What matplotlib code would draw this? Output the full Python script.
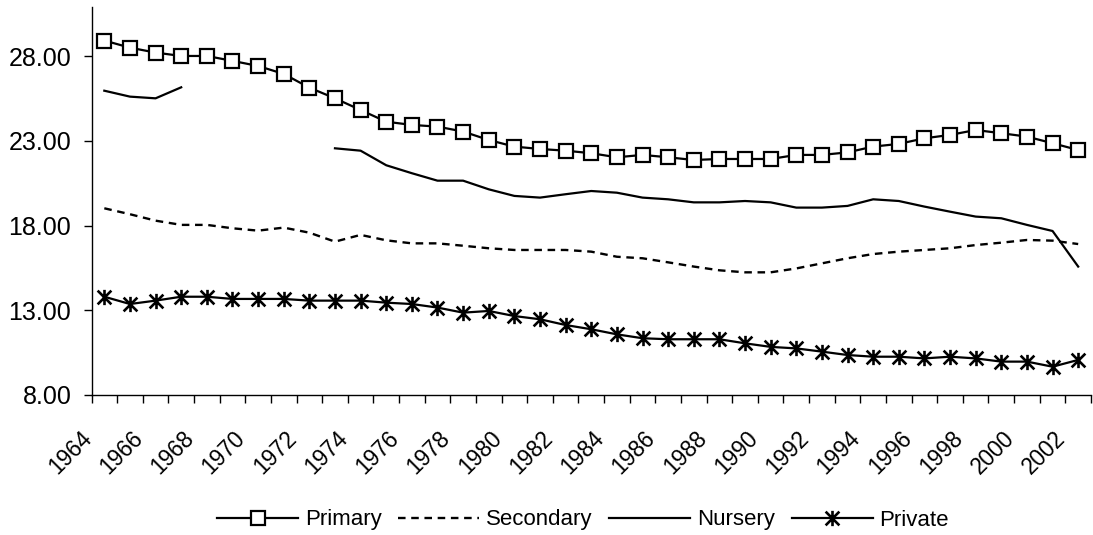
import matplotlib
matplotlib.use("Agg")
import matplotlib.pyplot as plt
import matplotlib.transforms as mtransforms
import numpy as np
from matplotlib.path import Path

plt.rcParams["font.family"] = ["Liberation Sans", "DejaVu Sans"]

years = list(range(1964, 2003))

primary = [28.92, 28.50, 28.21, 28.01, 28.01, 27.72, 27.42, 26.95, 26.14, 25.51,
           24.82, 24.13, 23.94, 23.84, 23.55, 23.05, 22.66, 22.52, 22.42, 22.27,
           22.03, 22.17, 22.03, 21.87, 21.93, 21.93, 21.93, 22.17, 22.17, 22.32,
           22.66, 22.82, 23.15, 23.35, 23.64, 23.45, 23.25, 22.86, 22.46]

secondary = [19.02, 18.67, 18.29, 18.04, 18.04, 17.84, 17.70, 17.88, 17.58, 17.05,
             17.45, 17.13, 16.95, 16.95, 16.81, 16.66, 16.56, 16.56, 16.56, 16.46,
             16.16, 16.07, 15.83, 15.58, 15.36, 15.24, 15.24, 15.47, 15.77, 16.07,
             16.32, 16.46, 16.56, 16.66, 16.85, 16.99, 17.15, 17.11, 16.91]

nursery = [25.96, 25.61, 25.51, 26.16, np.nan, np.nan, np.nan, np.nan, np.nan, 22.56,
           22.42, 21.56, 21.09, 20.65, 20.65, 20.14, 19.75, 19.65, 19.85, 20.04,
           19.94, 19.65, 19.55, 19.37, 19.37, 19.45, 19.37, 19.06, 19.06, 19.16,
           19.55, 19.45, 19.12, 18.82, 18.53, 18.43, 18.04, 17.68, 15.58]

private = [13.80, 13.37, 13.57, 13.80, 13.80, 13.67, 13.67, 13.67, 13.57, 13.57,
           13.57, 13.45, 13.37, 13.16, 12.86, 12.96, 12.66, 12.47, 12.13, 11.88,
           11.58, 11.35, 11.29, 11.29, 11.29, 11.05, 10.84, 10.75, 10.56, 10.36,
           10.26, 10.26, 10.16, 10.26, 10.16, 9.97, 9.97, 9.67, 10.07]

# asterisk marker: vertical bar plus an X
asterisk = Path([(0, -1), (0, 1), (-0.9, -0.9), (0.9, 0.9), (-0.9, 0.9), (0.9, -0.9)],
                [Path.MOVETO, Path.LINETO, Path.MOVETO, Path.LINETO, Path.MOVETO, Path.LINETO])

x = np.arange(len(years))

fig = plt.figure(figsize=(10.93, 5.35), dpi=100)
ax = fig.add_axes([91.5 / 1093, 1 - 395 / 535, (1091 - 91.5) / 1093, 388 / 535])

lw = 1.6
ax.plot(x, primary, color="black", lw=lw, marker="s", markersize=9.5,
        markerfacecolor="white", markeredgecolor="black", markeredgewidth=1.6, label="Primary")
ax.plot(x, secondary, color="black", lw=1.7, linestyle=(0, (3.2, 2.4)), label="Secondary")
ax.plot(x, nursery, color="black", lw=lw, label="Nursery")
ax.plot(x, private, color="black", lw=lw, marker=asterisk, markersize=11,
        markeredgewidth=1.9, markerfacecolor="none", markeredgecolor="black", label="Private")

ax.set_xlim(-0.5, len(years) - 0.5)
ax.set_ylim(8, 30.9)

ax.set_yticks([8, 13, 18, 23, 28])
ax.set_yticklabels(["%.2f" % v for v in [8, 13, 18, 23, 28]])
ax.tick_params(axis="y", length=6, width=1, pad=8.5, labelsize=18)

ax.set_xticks(x[::2])
ax.set_xticklabels([str(y) for y in years[::2]], rotation=45, ha="right",
                   va="center", rotation_mode="anchor")
ax.set_xticks(np.arange(-0.5, len(years)), minor=True)
ax.tick_params(axis="x", which="major", length=0, pad=28.8, labelsize=16.3)
ax.tick_params(axis="x", which="minor", length=6, width=1)

shift = mtransforms.ScaledTranslation(-16.5 / 100, 0, fig.dpi_scale_trans)
for lbl in ax.get_xticklabels():
    lbl.set_transform(lbl.get_transform() + shift)

for side in ["top", "right"]:
    ax.spines[side].set_visible(False)
for side in ["left", "bottom"]:
    ax.spines[side].set_linewidth(1)

fig.legend(loc="center", bbox_to_anchor=(583 / 1093, 1 - 520 / 535), ncol=4, frameon=False,
           fontsize=16, handlelength=3.65, handletextpad=0.3, columnspacing=0.75)

fig.savefig("out.png", dpi=100)
